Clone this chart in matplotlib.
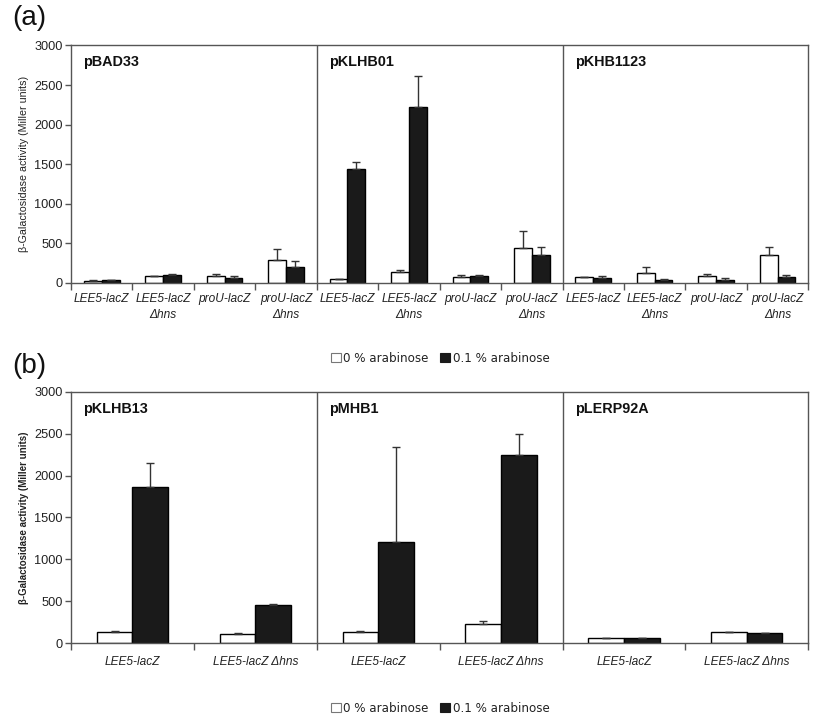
"""Beta-galactosidase activity of LEE5/proU reporters with arabinose-induced plasmids."""

import matplotlib

matplotlib.use("Agg")
import matplotlib.pyplot as plt
import matplotlib.transforms as mtransforms
import numpy as np
from matplotlib.patches import Patch

plt.rcParams["font.family"] = ["Liberation Sans", "DejaVu Sans"]

# ---- data (a) ----
plasmids_a = ["pBAD33", "pKLHB01", "pKHB1123"]
strains_a = ["LEE5-lacZ", "LEE5-lacZ\nΔhns", "proU-lacZ", "proU-lacZ\nΔhns"]
a_white = [25, 85, 85, 291, 47, 139, 76, 439, 76, 131, 85, 350]
a_white_err = [10, 8, 34, 144, 8, 31, 30, 215, 4, 67, 25, 106]
a_black = [35, 101, 63, 207, 1435, 2220, 85, 359, 68, 34, 34, 76]
a_black_err = [8, 9, 22, 68, 97, 400, 10, 93, 17, 21, 25, 30]

# ---- data (b) ----
plasmids_b = ["pKLHB13", "pMHB1", "pLERP92A"]
strains_b = ["LEE5-lacZ", "LEE5-lacZ Δhns"]
b_white = [138, 107, 138, 226, 67, 131]
b_white_err = [12, 12, 12, 44, 0, 0]
b_black = [1867, 460, 1208, 2241, 67, 127]
b_black_err = [279, 4, 1129, 251, 0, 0]

legend_labels = ["0 % arabinose", "0.1 % arabinose"]
yticks = [0, 500, 1000, 1500, 2000, 2500, 3000]

SPINE = "#555555"
BAR_W = 0.29


def draw_panel(ax, plasmids, strains, white, white_err, black, black_err,
               title_dx, ylabel_bold, label_pad):
    n_per = len(strains)
    n = len(white)
    x = np.arange(n)
    zeros = np.zeros(n)
    err_kw = dict(ecolor="#333333", elinewidth=1.0, capsize=3, capthick=1.0)
    white_err_arr = np.array(white_err)
    black_err_arr = np.array(black_err)
    ax.bar(x - BAR_W / 2, white, BAR_W, color="white", edgecolor="black",
           linewidth=1.0, yerr=[zeros, white_err_arr], error_kw=err_kw, zorder=2)
    ax.bar(x + BAR_W / 2, black, BAR_W, color="#1a1a1a", edgecolor="black",
           linewidth=1.0, yerr=[zeros, black_err_arr], error_kw=err_kw, zorder=2)

    ax.set_xlim(-0.5, n - 0.5)
    ax.set_ylim(0, 3000)
    ax.set_yticks(yticks)

    # panel dividers
    for k in range(1, len(plasmids)):
        ax.axvline(k * n_per - 0.5, color=SPINE, linewidth=1.0, zorder=1)

    # boundary ticks (major), labels on group centres (minor)
    ax.set_xticks(np.arange(n + 1) - 0.5)
    ax.set_xticklabels([])
    ax.set_xticks(x, minor=True)
    ax.set_xticklabels(strains * len(plasmids), minor=True, style="italic",
                       fontsize=8.6, color="#222222", linespacing=1.45)
    ax.tick_params(axis="x", which="major", direction="out", length=5,
                   color=SPINE, width=1.0)
    ax.tick_params(axis="x", which="minor", length=0, pad=label_pad)
    ax.tick_params(axis="y", direction="out", length=4, color=SPINE,
                   width=1.0, labelsize=9.2, labelcolor="#222222", pad=2)

    for s in ax.spines.values():
        s.set_color(SPINE)
        s.set_linewidth(1.0)

    trans = mtransforms.blended_transform_factory(ax.transData, ax.transAxes)
    for k, name in enumerate(plasmids):
        ax.text(k * n_per - 0.5 + title_dx, 0.932, name, transform=trans,
                fontsize=10.4, fontweight="bold", va="center", ha="left",
                color="#111111")

    ax.set_ylabel("β-Galactosidase activity (Miller units)",
                  fontsize=7.0 if ylabel_bold else 7.7,
                  fontweight="bold" if ylabel_bold else "normal",
                  color="#222222")
    ax.yaxis.set_label_coords(-0.057, 0.5)


fig = plt.figure(figsize=(8.21, 7.21), dpi=100)

ax_a = fig.add_axes([0.0865, 0.6075, 0.898, 0.3294])
draw_panel(ax_a, plasmids_a, strains_a, a_white, a_white_err, a_black,
           a_black_err, title_dx=0.2, ylabel_bold=False, label_pad=7)

ax_b = fig.add_axes([0.0865, 0.1078, 0.898, 0.3489])
draw_panel(ax_b, plasmids_b, strains_b, b_white, b_white_err, b_black,
           b_black_err, title_dx=0.1, ylabel_bold=True, label_pad=9)

handles = [Patch(facecolor="white", edgecolor="#777777", linewidth=0.8),
           Patch(facecolor="#1a1a1a", edgecolor="#1a1a1a", linewidth=0.8)]
for ycen in (1 - 358 / 721, 1 - 708 / 721):
    fig.legend(handles, legend_labels, loc="center",
               bbox_to_anchor=(440 / 821, ycen), ncol=2, frameon=False,
               prop={"family": "DejaVu Sans", "size": 8.6},
               handlelength=0.85, handleheight=0.85, handletextpad=0.2,
               columnspacing=0.95, borderpad=0.0, labelcolor="#222222")

fig.text(12 / 821, 1 - 18 / 721, "(a)", fontsize=20, va="center", ha="left",
         color="#111111")
fig.text(12 / 821, 1 - 366 / 721, "(b)", fontsize=20, va="center", ha="left",
         color="#111111")

fig.savefig("out.png", dpi=100)
